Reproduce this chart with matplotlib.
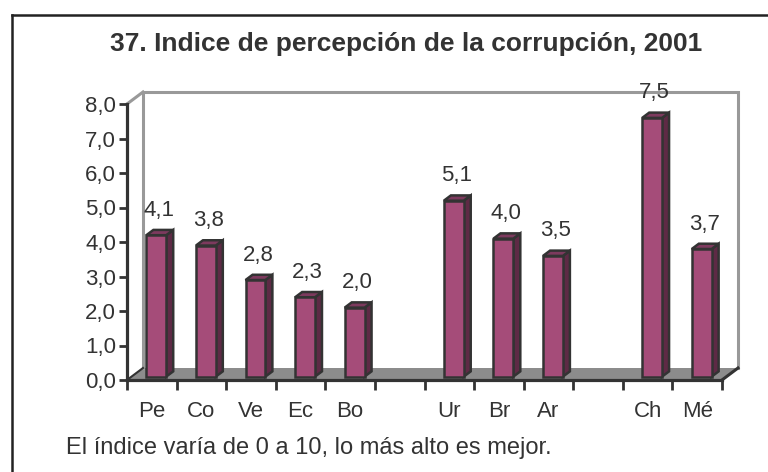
import numpy as np
import matplotlib
matplotlib.use('Agg')
import matplotlib.pyplot as plt
from matplotlib.patches import Polygon

# data
paises = ['Pe', 'Co', 'Ve', 'Ec', 'Bo', '', 'Ur', 'Br', 'Ar', '', 'Ch', 'Mé']
valores = [4.1, 3.8, 2.8, 2.3, 2.0, None, 5.1, 4.0, 3.5, None, 7.5, 3.7]
etiquetas = ['4,1', '3,8', '2,8', '2,3', '2,0', '', '5,1', '4,0', '3,5', '', '7,5', '3,7']
yticks = [0, 1, 2, 3, 4, 5, 6, 7, 8]
titulo = '37. Indice de percepción de la corrupción, 2001'
nota = 'El índice varía de 0 a 10, lo más alto es mejor.'

plt.rcParams['font.family'] = ['Liberation Sans', 'DejaVu Sans']
txt = '#333333'

fig = plt.figure(figsize=(7.68, 4.72), dpi=100)
W, H = 768, 472
# axes: x -0.5..11.5 -> px 127..722 ; y 0..8 -> px 380..104
ax = fig.add_axes([127 / W, (H - 380) / H, 595 / W, 276 / H])
n = len(paises)
ax.set_xlim(-0.5, n - 0.5)
ax.set_ylim(0, 8)

# depth vector of the 3D look, in data units
dx = 16 / (595 / n)
dy = 12 / (276 / 8)
x0, x1 = -0.5, n - 0.5

# floor
ax.add_patch(Polygon([(x0, 0), (x1, 0), (x1 + dx, dy), (x0 + dx, dy)],
                     closed=True, fc='#8c8c8c', ec='none', zorder=1, clip_on=False))
# back wall outline
ax.plot([x0 + dx, x0 + dx, x1 + dx, x1 + dx], [dy, 8 + dy, 8 + dy, dy],
        color='#999999', lw=2.2, zorder=1.5, clip_on=False, solid_joinstyle='miter')
ax.plot([x0, x0 + dx], [8, 8 + dy], color='#999999', lw=2.2, zorder=1.5, clip_on=False)
ax.plot([x1, x1 + dx], [0, dy], color='#333333', lw=2.2, zorder=1.5, clip_on=False)
ax.plot([x0, x0 + dx], [0, dy], color='#333333', lw=1.5, zorder=1.5, clip_on=False)

# bars
f, g = 0.28, 0.44
bw = 0.40
front = '#a54c79'
side = '#5e2a45'
top = '#7d3a5e'
edge = '#333333'
for i, v in enumerate(valores):
    if v is None:
        continue
    xl = i - bw / 2 + f * dx
    xr = xl + bw
    yb = f * dy
    yt = v + f * dy
    ax.bar(xl, v, width=bw, bottom=yb, align='edge', color=front,
           edgecolor=edge, linewidth=1.8, zorder=3)
    ax.add_patch(Polygon([(xr, yb), (xr, yt), (xr + g * dx, yt + g * dy), (xr + g * dx, yb + g * dy)],
                         closed=True, fc=side, ec=edge, lw=1.8, zorder=2.9, joinstyle='miter'))
    ax.add_patch(Polygon([(xl, yt), (xr, yt), (xr + g * dx, yt + g * dy), (xl + g * dx, yt + g * dy)],
                         closed=True, fc=top, ec=edge, lw=1.8, zorder=2.9, joinstyle='miter'))
    ax.annotate(etiquetas[i], (i + f * dx + 0.05, yt), xytext=(0, 14), textcoords='offset points',
                ha='center', va='baseline', fontsize=16, color=txt, zorder=5)

# axes
for s in ['top', 'right']:
    ax.spines[s].set_visible(False)
for s in ['left', 'bottom']:
    ax.spines[s].set_color('#333333')
    ax.spines[s].set_linewidth(2.3)
    ax.spines[s].set_zorder(4)
ax.set_yticks(yticks)
ax.set_yticklabels([('%.1f' % t).replace('.', ',') for t in yticks])
ax.tick_params(axis='y', direction='out', length=6, width=2, color='#333333',
               labelsize=16, labelcolor=txt, pad=2)
ax.set_xticks(range(n))
ax.set_xticklabels(paises)
ax.set_xticks(np.arange(n + 1) - 0.5, minor=True)
ax.tick_params(axis='x', which='major', length=0, labelsize=16, labelcolor=txt, pad=15)
ax.tick_params(axis='x', which='minor', direction='out', length=7, width=2, color='#333333')
ax.patch.set_alpha(0)

# title and note
fig.text(406 / W, 1 - 44 / H, titulo, ha='center', va='center', fontsize=19,
         fontweight='bold', color=txt)
fig.text(66 / W, 1 - 448 / H, nota, ha='left', va='center', fontsize=17, color=txt)

# frame
fig.add_artist(plt.Line2D([12 / W, 12 / W], [0, 1 - 15 / H], color='#222222', lw=1.8))
fig.add_artist(plt.Line2D([12 / W, 1], [1 - 15 / H, 1 - 15 / H], color='#222222', lw=1.8))

fig.savefig('out.png', dpi=100)
